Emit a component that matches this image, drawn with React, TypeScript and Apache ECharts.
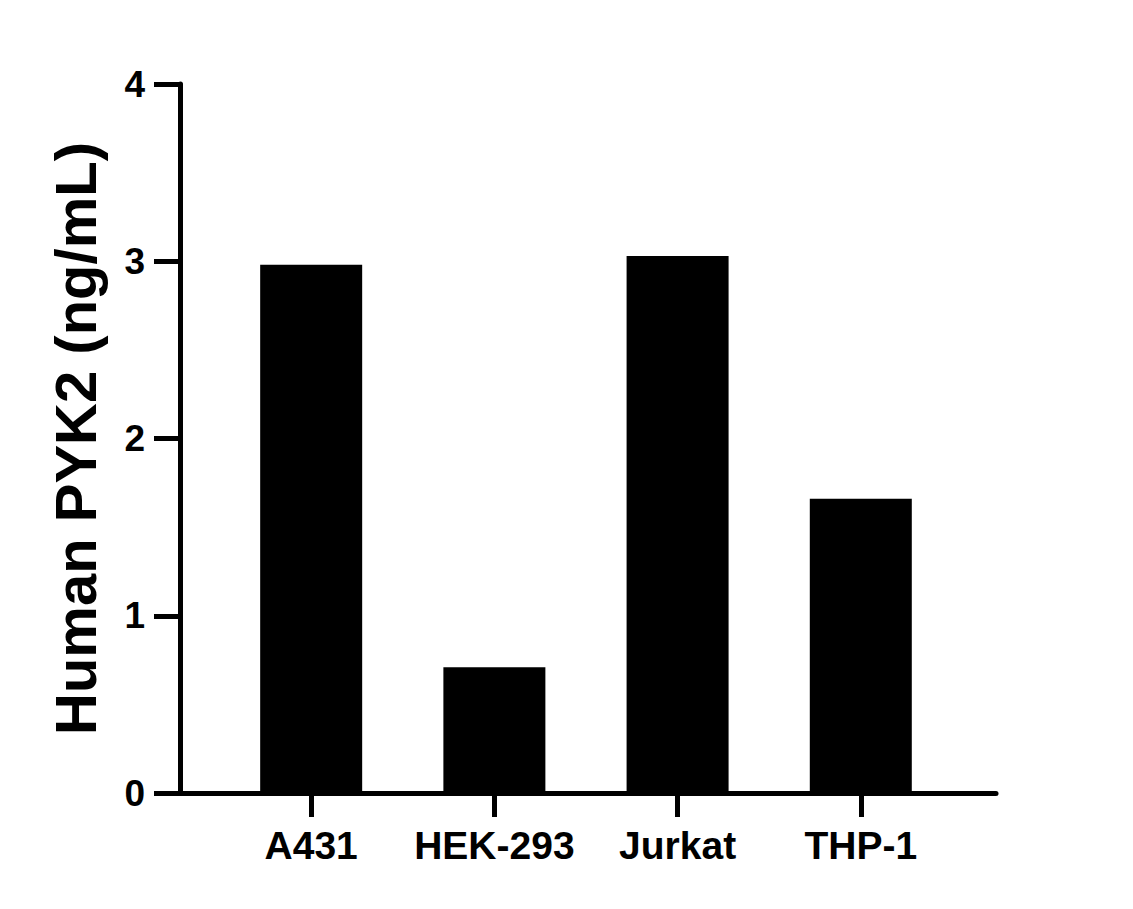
import React, { useRef, useEffect } from 'react';
import * as echarts from 'echarts';

const categories = ['A431', 'HEK-293', 'Jurkat', 'THP-1'];
const values = [2.98, 0.71, 3.03, 1.66];
const yTicks = [0, 1, 2, 3, 4];

const FONT = '"Liberation Sans", Arial, sans-serif';

const App: React.FC = () => {
    const chartRef = useRef<HTMLDivElement>(null);

    useEffect(() => {
        if (!chartRef.current) return;
        const chart = echarts.init(chartRef.current, null, { renderer: 'svg' });

        const option: echarts.EChartsOption = {
            animation: false,
            backgroundColor: '#fff',
            grid: { left: 180, right: 137, top: 84, bottom: 116, containLabel: false },
            xAxis: {
                type: 'value',
                min: -0.716,
                max: 3.738,
                splitLine: { show: false },
                axisLine: { show: true, onZero: false, lineStyle: { color: '#000', width: 5 } },
                axisTick: {
                    show: true,
                    customValues: [0, 1, 2, 3],
                    length: 24,
                    lineStyle: { color: '#000', width: 5 }
                },
                axisLabel: {
                    customValues: [0, 1, 2, 3],
                    formatter: (v: number) => categories[Math.round(v)] ?? '',
                    color: '#000',
                    fontFamily: FONT,
                    fontWeight: 'bold',
                    fontSize: 39,
                    margin: 33
                }
            } as any,
            yAxis: {
                type: 'value',
                min: yTicks[0],
                max: yTicks[yTicks.length - 1],
                interval: 1,
                name: 'Human PYK2 (ng/mL)',
                nameLocation: 'middle',
                nameRotate: 90,
                nameGap: 76,
                nameTextStyle: {
                    color: '#000',
                    fontFamily: FONT,
                    fontWeight: 'bold',
                    fontSize: 58
                },
                splitLine: { show: false },
                axisLine: { show: true, onZero: false, lineStyle: { color: '#000', width: 5 } },
                axisTick: { show: true, length: 26, lineStyle: { color: '#000', width: 5 } },
                axisLabel: {
                    color: '#000',
                    fontFamily: FONT,
                    fontWeight: 'bold',
                    fontSize: 37,
                    margin: 35
                }
            },
            series: [
                {
                    type: 'bar',
                    data: values.map((v, i) => [i, v]),
                    barWidth: 102,
                    itemStyle: { color: '#000' }
                }
            ]
        };

        chart.setOption(option);
        return () => {
            chart.dispose();
        };
    }, []);

    return (
        <div
            ref={chartRef}
            style={{ position: 'absolute', left: 0, top: 0, width: 1133, height: 909 }}
        />
    );
};

export default App;
